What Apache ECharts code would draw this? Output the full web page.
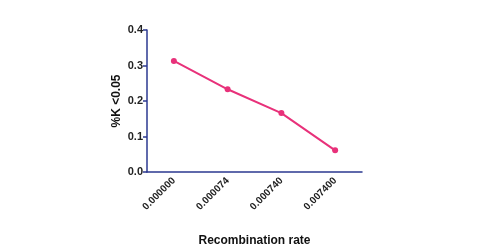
<!DOCTYPE html>
<html><head><meta charset="utf-8">
<script src="https://cdn.jsdelivr.net/npm/echarts@6/dist/echarts.min.js"></script>
<style>html,body{margin:0;padding:0;background:#fff}#c{width:490px;height:250px}</style>
</head><body><div id="c"></div>
<script>
const categories = ['0.000000', '0.000074', '0.000740', '0.007400'];
const values = [0.313, 0.233, 0.166, 0.061];
const yTicks = [0.0, 0.1, 0.2, 0.3, 0.4];
const xTitle = 'Recombination rate';
const yTitle = '%K <0.05';

const axisColor = '#2b3990';
const lineColor = '#e8317a';
const chart = echarts.init(document.getElementById('c'), null, {renderer: 'canvas'});
chart.setOption({
  animation: false,
  grid: {left: 147, top: 30, right: 128, bottom: 78, containLabel: false, outerBoundsMode: 'none'},
  xAxis: {
    type: 'category', data: categories, boundaryGap: true,
    name: xTitle, nameLocation: 'middle', nameGap: 63,
    nameTextStyle: {fontFamily: 'Liberation Sans', fontWeight: 'bold', fontSize: 12, color: '#111'},
    axisLine: {lineStyle: {color: axisColor, width: 1.5}},
    axisTick: {alignWithLabel: true, length: 4, lineStyle: {color: axisColor, width: 1.5}},
    axisLabel: {rotate: 45, fontFamily: 'Liberation Sans', fontWeight: 'bold', fontSize: 10, color: '#222', margin: 7}
  },
  yAxis: {
    type: 'value', min: yTicks[0], max: yTicks[yTicks.length - 1], interval: 0.1,
    name: yTitle, nameLocation: 'middle', nameGap: 24, nameRotate: 90,
    nameTextStyle: {fontFamily: 'Liberation Sans', fontWeight: 'bold', fontSize: 12, color: '#111'},
    axisLine: {show: true, lineStyle: {color: axisColor, width: 1.5}},
    axisTick: {show: true, length: 4, lineStyle: {color: axisColor, width: 1.5}},
    splitLine: {show: false},
    axisLabel: {formatter: v => v.toFixed(1), fontFamily: 'Liberation Sans', fontWeight: 'bold', fontSize: 11, color: '#222', margin: 4}
  },
  series: [{
    type: 'line', data: values, symbol: 'circle', symbolSize: 6,
    lineStyle: {color: lineColor, width: 2},
    itemStyle: {color: lineColor}
  }]
});
</script></body></html>
